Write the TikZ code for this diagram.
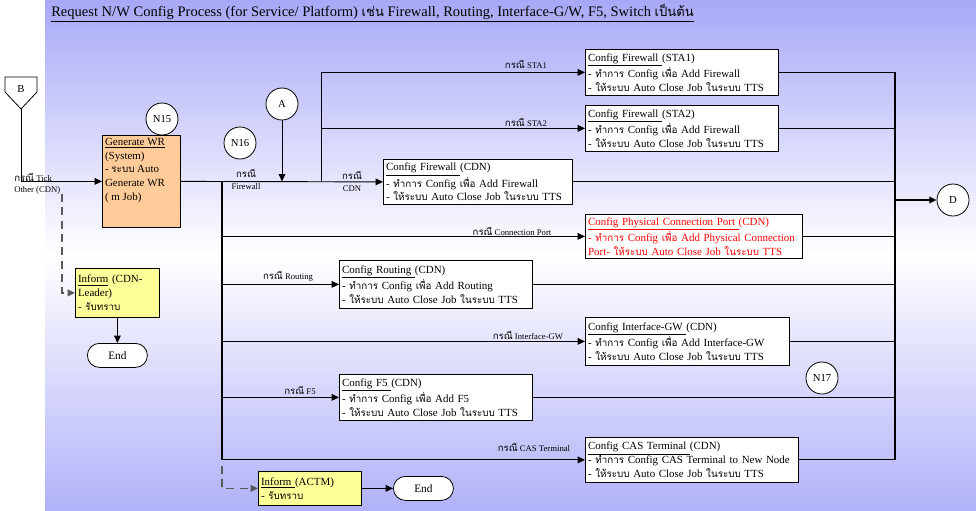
\documentclass[tikz,border=0pt]{standalone}
\usepackage{fontspec}
\setmainfont{Liberation Serif}
\newfontfamily\thaifont[Script=Thai,Scale=0.9]{Loma}
\usepackage{tikz}
\usetikzlibrary{arrows.meta,positioning}
\newcommand{\tx}[1]{{\thaifont #1}}
\newcommand{\ktx}[1]{{\fontsize{8}{9}\selectfont\thaifont #1}}
\newcommand{\boxfont}{\fontsize{8.2}{10.3}\selectfont}
\newcommand{\lblfont}{\fontsize{6.5}{8}\selectfont}
\definecolor{bgblue}{RGB}{168,168,248}
\definecolor{wrorange}{RGB}{255,204,153}
\definecolor{infoyellow}{RGB}{255,255,153}

\begin{document}
\begin{tikzpicture}[x=0.75pt,y=-0.75pt]
    %
    \tikzset{
        cfg/.style={draw, fill=white, anchor=north west, align=left, inner xsep=2pt, inner ysep=1pt, font=\boxfont, line width=0.6pt},
        conn/.style={circle, draw, fill=white, minimum size=24pt, inner sep=0pt, font=\fontsize{8}{9}\selectfont, line width=0.6pt},
        endbox/.style={draw, fill=white, rounded corners=9pt, minimum width=45pt, minimum height=18pt, anchor=north west, font=\fontsize{8.5}{10}\selectfont, line width=0.6pt},
        lbl/.style={font=\lblfont, inner sep=0pt},
        arr/.style={line width=0.7pt, -{Triangle[length=5.5pt,width=5pt]}},
        flow/.style={line width=0.7pt},
        trunk/.style={line width=1.3pt},
        dsh/.style={line width=1pt, gray!70!black, dash pattern=on 6pt off 4pt, -{Triangle[length=5.5pt,width=5pt]}}
    }
    \useasboundingbox (0,0) rectangle (976,511);
    \shade[top color=bgblue, bottom color=bgblue!90!white, middle color=white] (45,0) rectangle (976,511);

    %
    \node[anchor=base west, inner sep=0pt, font=\fontsize{10.9}{12}\selectfont] (title) at (51,16) {\underline{Request N/W Config Process (for Service/ Platform) \tx{เช่น} Firewall, Routing, Interface-G/W, F5, Switch \tx{เป็นต้น}}};

    %
    \draw[fill=white, line width=0.6pt] (5,77) -- (37,77) -- (37,92) -- (21,109) -- (5,92) -- cycle;
    \node[inner sep=0pt, font=\fontsize{8}{9}\selectfont] (b) at (21,89) {B};
    \coordinate (btip) at (21,109);

    %
    \node[draw, fill=wrorange, anchor=north west, inner xsep=2pt, inner ysep=2pt, font=\boxfont, line width=0.6pt] (genwr) at (102,135)
        {\parbox[t][65pt][t]{54.5pt}{\raggedright\underline{Generate WR}\\(System)\\- \tx{ระบบ} Auto\\Generate WR\\( m Job)}};
    \node[cfg, fill=infoyellow, text width=59pt, minimum height=36.75pt] (infcdn) at (75,268) {\underline{Inform} (CDN-\\Leader)\\- \tx{รับทราบ}};
    \node[cfg, fill=infoyellow, text width=73.25pt, minimum height=25.5pt] (infactm) at (258,471) {\underline{Inform }(ACTM)\\- \tx{รับทราบ}};
    \node[endbox] (end1) at (87,343) {End};
    \node[endbox] (end2) at (393,476) {End};

    %
    \node[cfg, text width=140.75pt, minimum height=34.5pt] (sta1) at (585,49) {\underline{Config Firewall }(STA1)\\- \tx{ทำการ} Config \tx{เพื่อ} Add Firewall\\- \tx{ให้ระบบ} Auto Close Job \tx{ในระบบ} TTS};
    \node[cfg, text width=140.75pt, minimum height=34.5pt] (sta2) at (585,105) {\underline{Config Firewall }(STA2)\\- \tx{ทำการ} Config \tx{เพื่อ} Add Firewall\\- \tx{ให้ระบบ} Auto Close Job \tx{ในระบบ} TTS};
    \node[cfg, text width=137.75pt, minimum height=33.75pt] (cdn) at (383,159) {\underline{Config Firewall }(CDN)\\- \tx{ทำการ} Config \tx{เพื่อ} Add Firewall\\- \tx{ให้ระบบ} Auto Close Job \tx{ในระบบ} TTS};
    \node[cfg, text=red, text width=158.75pt, minimum height=33pt] (phys) at (585,214) {\underline{Config Physical Connection Port }(CDN)\\- \tx{ทำการ} Config \tx{เพื่อ} Add Physical Connection\\Port- \tx{ให้ระบบ} Auto Close Job \tx{ในระบบ} TTS};
    \node[cfg, text width=140.75pt, minimum height=36pt] (rout) at (339,260) {\underline{Config Routing }(CDN)\\- \tx{ทำการ} Config \tx{เพื่อ} Add Routing\\- \tx{ให้ระบบ} Auto Close Job \tx{ในระบบ} TTS};
    \node[cfg, text width=149pt, minimum height=36pt] (igw) at (585,317) {\underline{Config Interface-GW }(CDN)\\- \tx{ทำการ} Config \tx{เพื่อ} Add Interface-GW\\- \tx{ให้ระบบ} Auto Close Job \tx{ในระบบ} TTS};
    \node[cfg, text width=140.75pt, minimum height=34.5pt] (ffive) at (339,374) {\underline{Config F5 }(CDN)\\- \tx{ทำการ} Config \tx{เพื่อ} Add F5\\- \tx{ให้ระบบ} Auto Close Job \tx{ในระบบ} TTS};
    \node[cfg, text width=155.75pt, minimum height=33.75pt] (cas) at (585,437) {\underline{Config CAS Terminal }(CDN)\\- \tx{ทำการ} Config CAS Terminal to New Node\\- \tx{ให้ระบบ} Auto Close Job \tx{ในระบบ} TTS};

    %
    \node[conn] (n15) at (162,119) {N15};
    \node[conn] (n16) at (240,143) {N16};
    \node[conn] (ca) at (282,104) {A};
    \node[conn] (n17) at (822,378) {N17};
    \node[conn] (cd) at (953,200) {D};

    %
    \coordinate (jL) at (222,181);
    \coordinate (jU) at (321,181);
    \coordinate (jR) at (895,459.5);
    \coordinate (tk) at (62,194);
    \coordinate (cs) at (222,466);

    %
    \draw[arr] (btip) |- (genwr.west);
    \draw[arr] (genwr.east) -- (cdn.west);
    \draw[arr] (ca.south) -- (ca.south |- genwr.east);
    \draw[arr] (jU) |- (sta1.west);
    \draw[arr] (jU |- sta2.west) -- (sta2.west);
    \draw[trunk] (jL) -- (jL |- cas.west);
    \foreach \n in {phys,rout,igw,ffive,cas}
        \draw[arr] (jL |- \n.west) -- (\n.west);
    \foreach \n in {sta1,sta2,cdn,phys,rout,igw,ffive,cas}
        \draw[flow] (\n.east) -- (\n.east -| jR);
    \draw[trunk] (jR |- sta1.east) -- (jR);
    \draw[trunk, -{Triangle[length=5.5pt,width=5pt]}] (jR |- cd.west) -- (cd.west);
    \draw[dsh] (tk) |- (infcdn.west);
    \draw[dsh] (cs) |- (infactm.west);
    \draw[arr] (infactm.east) -- (end2.west);
    \draw[arr] (infcdn.south) -- (end1.north);

    %
    \node[lbl, anchor=west] (ltick) at (14,177) {\ktx{กรณี} Tick};
    \node[lbl, anchor=west] (lother) at (14,190) {Other (CDN)};
    \node[lbl] (lfwa) at (246,173) {\ktx{กรณี}};
    \node[lbl] (lfwb) at (246,187) {Firewall};
    \node[lbl] (lcdna) at (352,175) {\ktx{กรณี}};
    \node[lbl] (lcdnb) at (352,189) {CDN};
    \node[lbl] (lsta1) at (526,64) {\ktx{กรณี} STA1};
    \node[lbl] (lsta2) at (526,122) {\ktx{กรณี} STA2};
    \node[lbl] (lport) at (512,231) {\ktx{กรณี} Connection Port};
    \node[lbl] (lrout) at (288,276) {\ktx{กรณี} Routing};
    \node[lbl] (ligw) at (528,335) {\ktx{กรณี} Interface-GW};
    \node[lbl] (lffive) at (300,390) {\ktx{กรณี} F5};
    \node[lbl] (lcas) at (534,447) {\ktx{กรณี} CAS Terminal};

\end{tikzpicture}
\end{document}
